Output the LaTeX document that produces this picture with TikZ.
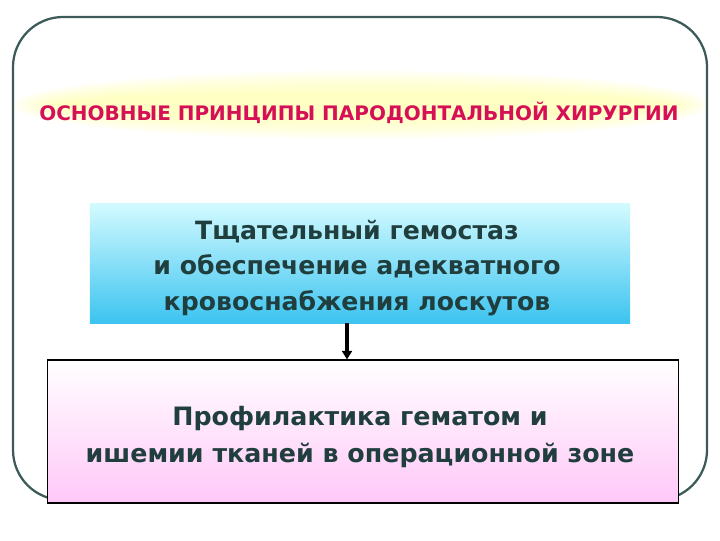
\documentclass[tikz,border=0pt]{standalone}
\usepackage{fontspec}
\setmainfont{DejaVu Sans}
\usetikzlibrary{arrows.meta}
\definecolor{framegray}{RGB}{60,90,88}
\definecolor{titlered}{RGB}{214,16,86}
\definecolor{textslate}{RGB}{32,62,62}
\definecolor{bluetop}{RGB}{210,250,255}
\definecolor{bluebot}{RGB}{60,196,240}
\definecolor{pinkbot}{RGB}{255,200,248}
\definecolor{glowyellow}{RGB}{255,255,150}
\tikzset{
  boxtext/.style={text=textslate, align=center, inner sep=0pt},
}

\begin{document}
\begin{tikzpicture}[x=0.025cm, y=0.025cm]
			%%%%% START %%%%%
			
			\useasboundingbox[fill=white] (0, 0) rectangle (720, 540);
			
			% title glow
			\foreach \i in {0,...,7}
				\fill[glowyellow, opacity=0.09] (362, 435) ellipse ({348-6*\i} and {34-3*\i});
			
			% frame
			\draw[line width=1.6pt, color=framegray, rounded corners=1.25cm] (13, 40) rectangle (707, 523);
			
			\node[text=titlered, font=\bfseries\fontsize{14.2}{16}\selectfont] (title) at (359, 427) {ОСНОВНЫЕ ПРИНЦИПЫ ПАРОДОНТАЛЬНОЙ ХИРУРГИИ};
			
			% first box
			\node[minimum width=13.5cm, minimum height=2.975cm, top color=bluetop, bottom color=bluebot] (blue) at (360, 276.5) {};
			\node[boxtext, font=\bfseries\fontsize{17.9}{25}\selectfont] (bluetext) at (357, 272)
			      {Тщательный гемостаз\\и обеспечение адекватного\\кровоснабжения лоскутов};
			
			% second box
			\node[draw=black, line width=0.8pt, minimum width=15.75cm, minimum height=3.575cm, top color=white, bottom color=pinkbot] (pink) at (363, 108.5) {};
			\node[boxtext, font=\bfseries\fontsize{18}{27}\selectfont] (pinktext) at (360, 103)
			      {Профилактика гематом и\\ишемии тканей в операционной зоне};
			
			\coordinate (ax) at (347, 0);
			\draw[line width=2.2pt, -{Triangle[length=6pt, width=7pt]}] (blue.south -| ax) -- (pink.north -| ax);
			
			%%%%% END %%%%%
		\end{tikzpicture}
\end{document}
